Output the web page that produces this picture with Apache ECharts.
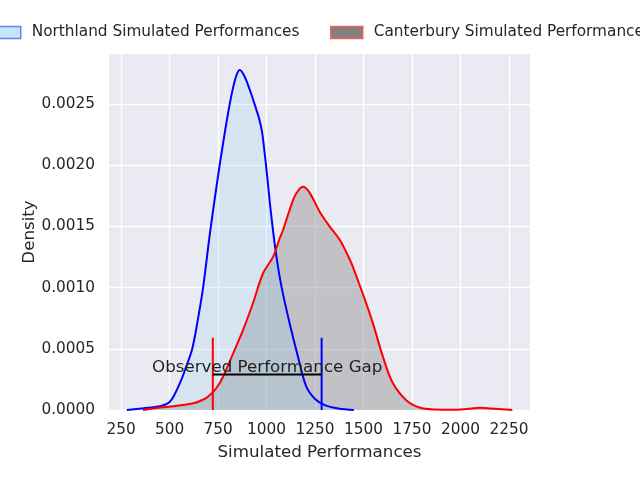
<!DOCTYPE html>
<html>
<head>
<meta charset="utf-8">
<script src="https://cdn.jsdelivr.net/npm/echarts@6/dist/echarts.min.js"></script>
<style>html,body{margin:0;padding:0;background:#fff}#c{width:640px;height:480px}</style>
</head>
<body>
<div id="c"></div>
<script>
// Northland KDE (x, density)
const northX = [280, 365, 450, 502, 553, 585, 617, 645, 673, 708, 742, 776, 811, 840, 862, 885, 914, 948, 962, 976, 988, 1000, 1025, 1051, 1077, 1119, 1162, 1205, 1250, 1300, 1370, 1450];
const northY = [0, 0.000014, 0.00003, 0.000068, 0.000218, 0.00035, 0.0005, 0.00073, 0.001, 0.00144, 0.001824, 0.002179, 0.002506, 0.00271, 0.002778, 0.00273, 0.002614, 0.002451, 0.00238, 0.00228, 0.00213, 0.00196, 0.00158, 0.001253, 0.001008, 0.000708, 0.000436, 0.00019, 0.00009, 0.00004, 0.000012, 0];
// Canterbury KDE (x, density)
const cantX = [363, 451, 540, 622, 680, 708, 742, 776, 828, 879, 930, 982, 1034, 1068, 1085, 1119, 1150, 1188, 1220, 1274, 1325, 1377, 1420, 1445, 1496, 1548, 1599, 1651, 1720, 1788, 1870, 1950, 2030, 2100, 2180, 2267];
const cantY = [0, 0.00002, 0.000035, 0.000055, 0.00009, 0.000123, 0.00018, 0.000272, 0.000463, 0.000654, 0.000872, 0.001117, 0.001253, 0.001403, 0.00147, 0.001634, 0.00176, 0.001824, 0.00178, 0.00162, 0.0015, 0.00139, 0.00126, 0.00117, 0.00095, 0.00071, 0.00044, 0.00022, 0.00008, 0.00002, 0.000004, 0.000002, 0.000008, 0.000018, 0.00001, 0];
// Observed gap annotation
const gapLeft = 723;
const gapRight = 1284;
const gapBarTop = 0.00059;
const gapLineY = 0.00029;
const gapText = 'Observed Performance Gap';
// Axis ticks
const xTicks = [250, 500, 750, 1000, 1250, 1500, 1750, 2000, 2250];
const yTicks = [0, 0.0005, 0.001, 0.0015, 0.002, 0.0025];
const northName = 'Northland Simulated Performances';
const cantName = 'Canterbury Simulated Performances';

const zip = (xs, ys) => xs.map((x, i) => [x, ys[i]]);
const FF = 'DejaVu Sans';
const TC = '#262626';
const SM = 0.35;

const chart = echarts.init(document.getElementById('c'), null, {renderer: 'canvas'});
const legendBase = {
  icon: 'rect', itemWidth: 32, itemHeight: 12, top: 20, orient: 'horizontal',
  selectedMode: false,
  textStyle: {fontSize: 15.3, color: TC, fontFamily: FF, padding: [0, 0, 0, 6]}
};
chart.setOption({
  animation: false,
  textStyle: {fontFamily: FF},
  legend: [
    Object.assign({}, legendBase, {left: -17, data: [{name: northName, itemStyle: {color: '#c3e5f7', borderColor: '#6a80f0', borderWidth: 1.5}}]}),
    Object.assign({}, legendBase, {left: 325, data: [{name: cantName, itemStyle: {color: '#808080', borderColor: '#f06060', borderWidth: 1.5}}]})
  ],
  grid: {left: 109, right: 110, top: 54, bottom: 70, show: true, backgroundColor: '#EAEAF2', borderWidth: 0, containLabel: false},
  xAxis: {
    type: 'value', min: 188, max: 2358,
    name: 'Simulated Performances', nameLocation: 'middle', nameGap: 34,
    nameTextStyle: {fontSize: 16.7, color: TC, fontFamily: FF},
    axisLine: {show: false},
    axisTick: {show: false, customValues: xTicks},
    axisLabel: {customValues: xTicks, fontSize: 15.3, color: TC, fontFamily: FF, margin: 13,
      formatter: v => String(Math.round(v))},
    splitLine: {show: true, lineStyle: {color: '#ffffff', width: 1.4}}
  },
  yAxis: {
    type: 'value', min: 0, max: 0.002908,
    name: 'Density', nameLocation: 'middle', nameGap: 71, nameMoveOverlap: false,
    nameTextStyle: {fontSize: 16.7, color: TC, fontFamily: FF},
    axisLine: {show: false},
    axisTick: {show: false, customValues: yTicks},
    axisLabel: {customValues: yTicks, fontSize: 15.3, color: TC, fontFamily: FF, margin: 14,
      formatter: v => Number(v).toFixed(4)},
    splitLine: {show: true, lineStyle: {color: '#ffffff', width: 1.4}}
  },
  series: [
    {name: cantName, type: 'line', data: zip(cantX, cantY), smooth: SM, symbol: 'none', silent: true,
      lineStyle: {width: 0}, itemStyle: {color: '#808080'}, areaStyle: {color: 'rgba(128,128,128,0.55)', origin: 'start'}, z: 2},
    {name: northName, type: 'line', data: zip(northX, northY), smooth: SM, symbol: 'none', silent: true,
      lineStyle: {width: 0}, itemStyle: {color: '#87ceeb'}, areaStyle: {color: 'rgba(135,206,235,0.3)', origin: 'start'}, z: 3},
    {name: 'northLine', type: 'line', data: zip(northX, northY), smooth: SM, symbol: 'none', silent: true,
      lineStyle: {width: 2, color: '#0000ff'}, z: 4},
    {name: 'cantLine', type: 'line', data: zip(cantX, cantY), smooth: SM, symbol: 'none', silent: true,
      lineStyle: {width: 2, color: '#ff0000'}, z: 5},
    {name: 'gapLeft', type: 'line', data: [[gapLeft, 0], [gapLeft, gapBarTop]], symbol: 'none', silent: true,
      lineStyle: {width: 2, color: '#ff0000'}, z: 6},
    {name: 'gapRight', type: 'line', data: [[gapRight, 0], [gapRight, gapBarTop]], symbol: 'none', silent: true,
      lineStyle: {width: 2, color: '#0000ff'}, z: 6},
    {name: 'gapBar', type: 'line', data: [[gapLeft, gapLineY], [gapRight, gapLineY]], symbol: 'none', silent: true,
      lineStyle: {width: 2, color: '#000000'}, z: 6},
    {name: 'gapText', type: 'scatter', data: [[(gapLeft + gapRight) / 2, gapLineY]], symbolSize: 1, silent: true, z: 10,
      itemStyle: {opacity: 0},
      label: {show: true, position: 'top', distance: -2, formatter: gapText, fontSize: 16.7, color: '#1f1f1f', opacity: 1, fontFamily: FF}}
  ]
});
</script>
</body>
</html>
